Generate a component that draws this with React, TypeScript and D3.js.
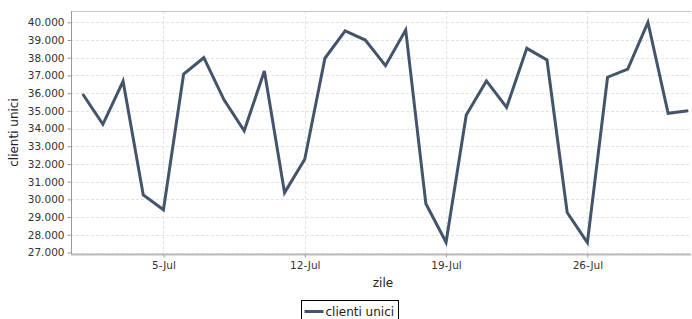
import React, { useEffect, useRef } from "react";
import * as d3 from "d3";

// daily unique clients, July
const days = d3.range(1, 32).map((d) => new Date(2013, 6, d));
const clients = [
  35950, 34240, 36670, 30250, 29410, 37080, 38000, 35620, 33870, 37250,
  30380, 32270, 37970, 39510, 39000, 37550, 39570, 29750, 27580, 34770,
  36690, 35200, 38530, 37870, 29260, 27560, 36900, 37360, 40000, 34860, 35010,
];
const yTicks = d3.range(27000, 40001, 1000);
const xTicks = [5, 12, 19, 26].map((d) => new Date(2013, 6, d));
const seriesName = "clienti unici";

const W = 692;
const H = 319;

export default function App() {
  const ref = useRef<SVGSVGElement>(null);

  useEffect(() => {
    const svg = d3.select(ref.current);
    svg.selectAll("*").remove();

    const left = 71, right = 691, top = 11, bottom = 254;
    const font = "DejaVu Sans, sans-serif";

    const x = d3.scaleTime()
      .domain([days[0], days[days.length - 1]])
      .range([82.7, 688.3]);
    const y = d3.scaleLinear().domain([27000, 40000]).range([252.5, 22.3]);

    svg.append("rect")
      .attr("x", left).attr("y", top)
      .attr("width", right - left).attr("height", bottom - top)
      .attr("fill", "#fff");

    // grid
    svg.append("g")
      .selectAll("line")
      .data(yTicks)
      .enter().append("line")
      .attr("x1", left).attr("x2", right)
      .attr("y1", (d) => Math.round(y(d)) + 0.5).attr("y2", (d) => Math.round(y(d)) + 0.5)
      .attr("stroke", "#e2e2e2").attr("stroke-dasharray", "3,2");
    svg.append("g")
      .selectAll("line")
      .data(xTicks)
      .enter().append("line")
      .attr("y1", top).attr("y2", bottom)
      .attr("x1", (d) => Math.round(x(d)) + 0.5).attr("x2", (d) => Math.round(x(d)) + 0.5)
      .attr("stroke", "#e2e2e2").attr("stroke-dasharray", "3,2");

    // frame
    svg.append("line")
      .attr("x1", left).attr("x2", right).attr("y1", top + 0.5).attr("y2", top + 0.5)
      .attr("stroke", "#c8c8c8");

    // y axis
    const yAxis = svg.append("g")
      .attr("transform", `translate(${left + 0.5},0)`)
      .call(d3.axisLeft(y).tickValues(yTicks).tickSize(4).tickPadding(3)
        .tickFormat((d) => d3.format(",")(d as number).replace(/,/g, ".")));
    yAxis.select(".domain").attr("stroke", "#999").attr("d", `M0,${top}V${bottom}`);
    yAxis.selectAll(".tick line").attr("stroke", "#999");
    yAxis.selectAll("text").attr("font-family", font).attr("font-size", 10.5).attr("fill", "#333");

    // x axis
    const xAxis = svg.append("g")
      .attr("transform", `translate(0,${bottom + 0.5})`)
      .call(d3.axisBottom(x).tickValues(xTicks).tickSize(3).tickPadding(4)
        .tickFormat((d) => d3.timeFormat("%-d-%b")(d as Date)));
    xAxis.select(".domain").attr("stroke", "#bbb").attr("stroke-width", 2).attr("d", `M${left},0H${right}`);
    xAxis.selectAll(".tick line").attr("stroke", "#999");
    xAxis.selectAll("text").attr("font-family", font).attr("font-size", 10.5).attr("fill", "#333");

    // line
    const line = d3.line<number>()
      .x((_, i) => x(days[i]))
      .y((d) => y(d));
    svg.append("path")
      .datum(clients)
      .attr("d", line)
      .attr("fill", "none")
      .attr("stroke", "#44546a")
      .attr("stroke-width", 3)
      .attr("stroke-linejoin", "miter");

    // axis titles
    svg.append("text")
      .attr("transform", `translate(18,${(top + bottom) / 2}) rotate(-90)`)
      .attr("text-anchor", "middle")
      .attr("font-family", font).attr("font-size", 12).attr("fill", "#222")
      .text("clienti unici");
    svg.append("text")
      .attr("x", 383).attr("y", 287)
      .attr("text-anchor", "middle")
      .attr("font-family", font).attr("font-size", 12).attr("fill", "#222")
      .text("zile");

    // legend
    const lg = svg.append("g").attr("transform", "translate(301.5,300.5)");
    lg.append("rect").attr("width", 97).attr("height", 22)
      .attr("fill", "#fff").attr("stroke", "#000");
    lg.append("line").attr("x1", 3).attr("x2", 22).attr("y1", 11).attr("y2", 11)
      .attr("stroke", "#44546a").attr("stroke-width", 3);
    lg.append("text").attr("x", 24).attr("y", 15)
      .attr("font-family", font).attr("font-size", 12).attr("fill", "#222")
      .text(seriesName);
  }, []);

  return (
    <svg ref={ref} width={W} height={H}
      style={{ position: "absolute", left: 0, top: 0, background: "#fff" }} />
  );
}
